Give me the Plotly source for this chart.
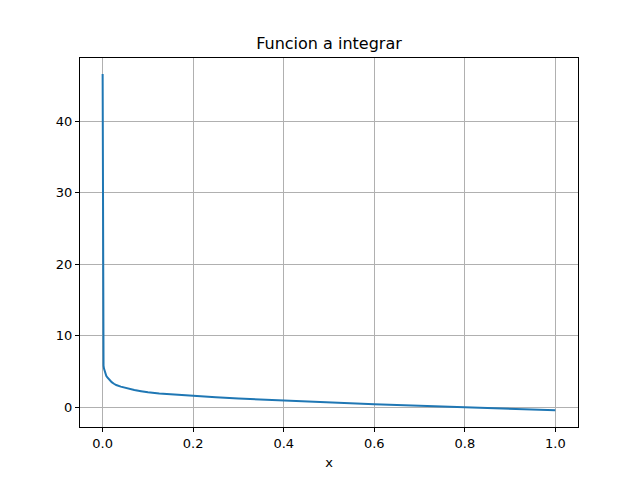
import plotly.graph_objects as go

x_vals = [0.0, 0.0005, 0.001, 0.002, 0.003, 0.004, 0.006, 0.008, 0.01, 0.0125, 0.015, 0.02, 0.025,
          0.03, 0.04, 0.05, 0.06, 0.07, 0.085, 0.1, 0.125, 0.15, 0.175, 0.2, 0.25, 0.3, 0.35,
          0.4, 0.45, 0.5, 0.55, 0.6, 0.65, 0.7, 0.75, 0.8, 0.85, 0.9, 0.95, 1.0]
y_vals = [46.6, 7.2, 6.5, 5.8, 5.4, 5.1, 4.7, 4.4, 4.2, 3.98, 3.8, 3.5, 3.28,
          3.1, 2.88, 2.7, 2.55, 2.42, 2.24, 2.08, 1.92, 1.8, 1.68, 1.58, 1.39, 1.22, 1.07,
          0.93, 0.8, 0.67, 0.54, 0.42, 0.31, 0.2, 0.1, 0.0, -0.11, -0.22, -0.32, -0.42]

title_text = "Funcion a integrar"
x_label = "x"
x_ticks = [0.0, 0.2, 0.4, 0.6, 0.8, 1.0]
x_tick_labels = ["0.0", "0.2", "0.4", "0.6", "0.8", "1.0"]
y_ticks = [0, 10, 20, 30, 40]

fig = go.Figure()
fig.add_trace(go.Scatter(x=x_vals, y=y_vals, mode="lines",
                         line=dict(color="#1f77b4", width=2)))

axis_common = dict(showline=True, linecolor="black", linewidth=1, mirror=True,
                   ticks="outside", ticklen=4, tickcolor="black", tickwidth=1,
                   showgrid=True, gridcolor="#b0b0b0", gridwidth=1, zeroline=False,
                   tickfont=dict(family="DejaVu Sans", size=13, color="black"))

fig.update_layout(
    width=642, height=480,
    paper_bgcolor="white", plot_bgcolor="white",
    margin=dict(l=72, r=72, t=50, b=61),
    showlegend=False,
    font=dict(family="DejaVu Sans", size=13, color="black"),
    title=dict(text=title_text, x=0.5, xanchor="center", xref="paper",
               y=1 - 35 / 480, yanchor="middle",
               font=dict(family="DejaVu Sans", size=16, color="black")),
    xaxis=dict(range=[-0.05, 1.05], tickvals=x_ticks, ticktext=x_tick_labels,
               title=dict(text=x_label, standoff=8,
                          font=dict(family="DejaVu Sans", size=13, color="black")),
               **axis_common),
    yaxis=dict(range=[-2.77, 48.85], tickvals=y_ticks, **axis_common),
)

fig.write_html("out.html")
